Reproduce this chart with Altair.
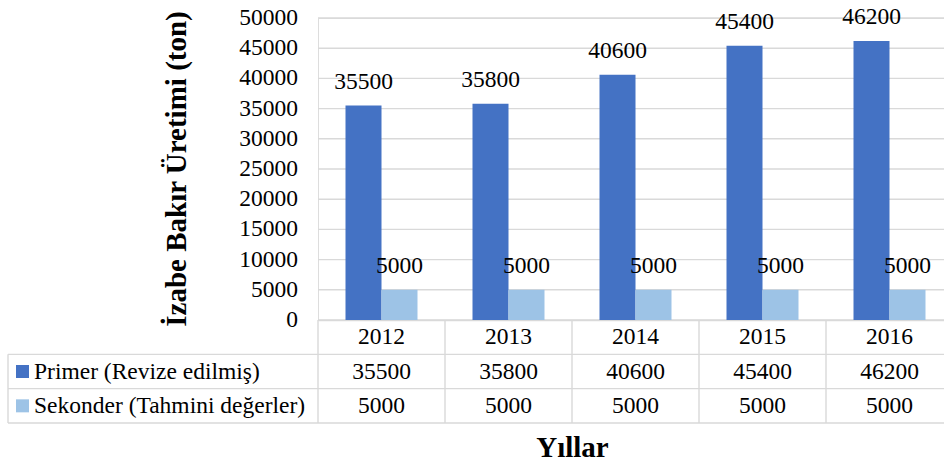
import altair as alt
import pandas as pd

# ---- data ----
years = ["2012", "2013", "2014", "2015", "2016"]
primer = [35500, 35800, 40600, 45400, 46200]
sekonder = [5000, 5000, 5000, 5000, 5000]
series_names = ["Primer (Revize edilmiş)", "Sekonder (Tahmini değerler)"]
series_colors = ["#4472C4", "#9DC3E6"]
y_ticks = [0, 5000, 10000, 15000, 20000, 25000, 30000, 35000, 40000, 45000, 50000]
year_row = "Yıl"
row_keys = [year_row] + series_names

y_title = "İzabe Bakır Üretimi (ton)"
x_title = "Yıllar"

FONT = "'Liberation Serif', 'Times New Roman', Tinos, 'DejaVu Serif', serif"
GRID = "#D9D9D9"
FS = 23.5

bars_df = pd.DataFrame({
    "year": years + years,
    "series": [series_names[0]] * len(years) + [series_names[1]] * len(years),
    "value": primer + sekonder,
})
bars_df["label"] = bars_df["value"].astype(str)

table_df = pd.concat([
    pd.DataFrame({"year": years, "row": [year_row] * len(years), "label": years}),
    pd.DataFrame({"year": bars_df["year"], "row": bars_df["series"], "label": bars_df["label"]}),
], ignore_index=True)

ticks_df = pd.DataFrame({"tick": y_ticks, "label": [str(t) for t in y_ticks]})

color_scale = alt.Scale(domain=series_names, range=series_colors)
x_scale = alt.Scale(domain=years, range=[0, 635], paddingInner=0, paddingOuter=0)
row_scale = alt.Scale(type="band", domain=row_keys, range=[302, 405], paddingInner=0, paddingOuter=0)
y_scale = alt.Scale(domain=[0, 50000], nice=False)

x_axis = alt.Axis(labels=False, ticks=False, grid=False, domain=True,
                  domainColor=GRID, domainWidth=1.5,
                  title=x_title, titleFont=FONT, titleFontSize=29, titleFontWeight="bold",
                  titleColor="black", titleX=254, titleY=136, titleBaseline="alphabetic",
                  titleAlign="center")

x_enc = alt.X("year:N", scale=x_scale, axis=x_axis)
y_enc = alt.Y("value:Q", scale=y_scale, axis=None)
xoff = alt.XOffset("series:N", scale=alt.Scale(domain=series_names, paddingOuter=0.764, paddingInner=0))

line_style = dict(color=GRID, strokeWidth=1.4)

gridlines = alt.Chart(ticks_df).mark_rule(**line_style).encode(
    y=alt.Y("tick:Q", scale=y_scale, axis=None),
    x=alt.value(0), x2=alt.value(635),
)
bars = alt.Chart(bars_df).mark_bar().encode(
    x=x_enc, xOffset=xoff, y=y_enc,
    color=alt.Color("series:N", scale=color_scale, legend=None),
)
labels = alt.Chart(bars_df).mark_text(
    font=FONT, fontSize=FS, baseline="alphabetic", dy=-17, color="black"
).encode(x=x_enc, xOffset=xoff, y=y_enc, text="label:N")

tick_labels = alt.Chart(ticks_df).mark_text(
    font=FONT, fontSize=FS, color="black", align="right", baseline="middle"
).encode(
    x=alt.value(-20),
    y=alt.Y("tick:Q", scale=y_scale, axis=None),
    text="label:N",
)
y_title_mark = alt.Chart(pd.DataFrame({"title": [y_title]})).mark_text(
    font=FONT, fontSize=29, fontWeight="bold", color="black", angle=270,
    align="center", baseline="alphabetic"
).encode(x=alt.value(-132), y=alt.value(151), text="title:N")

bar_layer = alt.layer(gridlines, bars, labels, tick_labels)

table_text = alt.Chart(table_df).mark_text(font=FONT, fontSize=FS, color="black", baseline="middle").encode(
    x=x_enc,
    y=alt.Y("row:N", scale=row_scale, axis=None),
    text="label:N",
)
vlines = alt.Chart(pd.DataFrame({"year": years})).mark_rule(**line_style).encode(
    x=alt.X("year:N", scale=x_scale, axis=x_axis, bandPosition=0), y=alt.value(302), y2=alt.value(405)
)
hlines = alt.Chart(pd.DataFrame({"row": series_names})).mark_rule(**line_style).encode(
    y=alt.Y("row:N", scale=row_scale, axis=None, bandPosition=0),
    x=alt.value(-310), x2=alt.value(635),
)
bottom_line = alt.Chart(pd.DataFrame({"row": [series_names[1]]})).mark_rule(**line_style).encode(
    y=alt.Y("row:N", scale=row_scale, axis=None, bandPosition=1),
    x=alt.value(-310), x2=alt.value(635),
)
left_border = alt.Chart(pd.DataFrame({"row": [series_names[0]]})).mark_rule(**line_style).encode(
    y=alt.Y("row:N", scale=row_scale, axis=None, bandPosition=0),
    y2=alt.value(405), x=alt.value(-310),
)
squares = alt.Chart(pd.DataFrame({"series": series_names})).mark_square(size=169, opacity=1).encode(
    x=alt.value(-295.5),
    y=alt.Y("series:N", scale=row_scale, axis=None),
    color=alt.Color("series:N", scale=color_scale, legend=None),
)
row_labels = alt.Chart(pd.DataFrame({"series": series_names})).mark_text(
    font=FONT, fontSize=FS, color="black", align="left", baseline="middle"
).encode(
    x=alt.value(-284),
    y=alt.Y("series:N", scale=row_scale, axis=None),
    text="series:N",
)

chart = alt.layer(
    bar_layer, y_title_mark, vlines, hlines, bottom_line, left_border, table_text, squares, row_labels
).resolve_scale(y="independent").properties(
    width=626, height=302,
    autosize=alt.AutoSizeParams(type="none"),
    padding={"left": 318, "top": 18, "right": 0, "bottom": 141},
).configure_view(stroke=None).configure(background="white")

chart.save("out.html", embed_options={"renderer": "svg", "actions": False})
